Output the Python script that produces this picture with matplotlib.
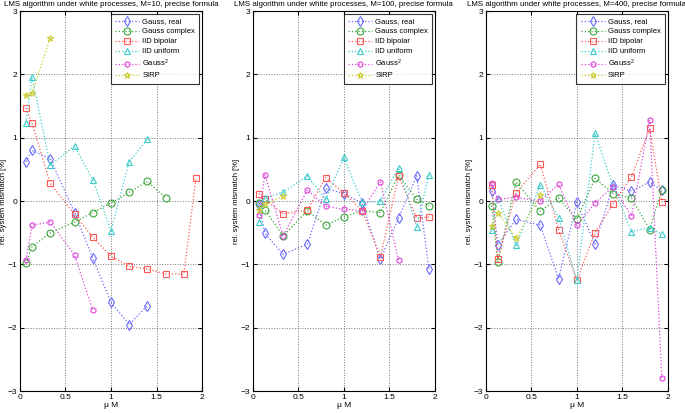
import numpy as np
import matplotlib
matplotlib.use('Agg')
import matplotlib.pyplot as plt

plt.rcParams['font.family'] = ['Liberation Sans', 'DejaVu Sans']
plt.rcParams['mathtext.fontset'] = 'custom'
plt.rcParams['mathtext.rm'] = 'Liberation Sans'
plt.rcParams['mathtext.it'] = 'Liberation Sans:italic'

# mu*M grid used in all three panels
mu = [0.0667, 0.1333, 0.3333, 0.6, 0.8, 1.0, 1.2, 1.4, 1.6, 1.8, 1.9333]

titles = ['LMS algorithm under white processes, M=10, precise formula',
          'LMS algorithm under white processes, M=100, precise formula',
          'LMS algorithm under white processes, M=400, precise formula']

labels = ['Gauss, real', 'Gauss complex', 'IID bipolar', 'IID uniform',
          'Gauss$^2$', 'SIRP']

# M=10
m10_gauss_real = [0.62, 0.80, 0.67, -0.18, -0.90, -1.60, -1.95, -1.65]
m10_gauss_cplx = [-0.98, -0.72, -0.50, -0.33, -0.18, -0.03, 0.14, 0.31, 0.05]
m10_bipolar = [1.47, 1.23, 0.28, -0.21, -0.57, -0.87, -1.03, -1.07, -1.15, -1.15, 0.37]
m10_uniform = [1.24, 1.96, 0.57, 0.87, 0.34, -0.47, 0.62, 0.98]
m10_gauss2 = [-0.93, -0.38, -0.33, -0.85, -1.72]
m10_sirp = [1.67, 1.70, 2.58]

# M=100
m100_gauss_real = [-0.06, -0.51, -0.84, -0.68, 0.20, 0.12, -0.03, -0.92, -0.27, 0.40, -1.07]
m100_gauss_cplx = [-0.03, -0.14, -0.55, -0.15, -0.38, -0.25, -0.15, -0.18, 0.41, 0.03, -0.07]
m100_bipolar = [0.12, 0.03, -0.20, -0.14, 0.37, 0.13, -0.15, -0.88, 0.39, -0.27, -0.25]
m100_uniform = [-0.33, 0.05, 0.14, 0.40, 0.03, 0.69, -0.02, 0.00, 0.53, -0.41, 0.42]
m100_gauss2 = [-0.22, 0.42, -0.55, 0.18, -0.08, -0.13, -0.15, 0.30, -0.93]
m100_sirp = [-0.14, -0.05, 0.08]

# M=400
m400_gauss_real = [0.16, -0.69, -0.29, -0.38, -1.23, -0.02, -0.68, 0.25, 0.16, 0.30, 0.17]
m400_gauss_cplx = [-0.07, -0.96, 0.30, -0.16, 0.05, -0.29, 0.36, 0.12, 0.05, -0.45, 0.18]
m400_bipolar = [0.26, -0.92, 0.13, 0.58, -0.45, -1.25, -0.50, -0.04, 0.38, 1.15, -0.01]
m400_uniform = [-0.45, 0.05, -0.70, 0.26, -0.26, -1.25, 1.07, 0.24, -0.48, -0.42, -0.52]
m400_gauss2 = [0.28, 0.03, 0.06, 0.00, 0.27, -0.38, -0.03, 0.23, -0.24, 1.28, -2.80]
m400_sirp = [-0.39, -0.18, -0.59, 0.10]

panels = [
    [m10_gauss_real, m10_gauss_cplx, m10_bipolar, m10_uniform, m10_gauss2, m10_sirp],
    [m100_gauss_real, m100_gauss_cplx, m100_bipolar, m100_uniform, m100_gauss2, m100_sirp],
    [m400_gauss_real, m400_gauss_cplx, m400_bipolar, m400_uniform, m400_gauss2, m400_sirp],
]

colors = ['#6a6aff', '#3aa63a', '#ff5a5a', '#3ccccc', '#dd44dd', '#cccc33']
markers = ['d', 'o', 's', '^', 'h', '*']
msizes = [5, 5, 5, 5, 4, 4.5]

fig = plt.figure(figsize=(6.85, 4.13), dpi=100)
lefts = [0.029, 0.369, 0.709]
for p in range(3):
    ax = fig.add_axes([lefts[p], 0.053, 0.266, 0.92])
    for s in range(6):
        y = panels[p][s]
        ax.plot(mu[:len(y)], y, linestyle=':', marker=markers[s], color=colors[s],
                markerfacecolor='none', markersize=msizes[s],
                linewidth=0.9, markeredgewidth=0.8, label=labels[s])
    ax.set_xlim(0, 2)
    ax.set_ylim(-3, 3)
    ax.set_xticks([0, 0.5, 1, 1.5, 2])
    ax.set_xticklabels(['0', '0.5', '1', '1.5', '2'])
    ax.set_yticks([-3, -2, -1, 0, 1, 2, 3])
    ax.grid(True, linestyle=':', color='#777777', linewidth=0.7)
    ax.tick_params(direction='in', labelsize=6, top=True, right=True, length=3, pad=2)
    ax.set_title(titles[p], fontsize=5.7, pad=3.5)
    ax.set_xlabel('\u03bc M', fontsize=6, labelpad=1)
    ax.set_ylabel('rel. system mismatch [%]', fontsize=5.5, labelpad=0)
    leg = ax.legend(loc='upper right', fontsize=5.5, frameon=True, fancybox=False,
                    edgecolor='black', handlelength=3.2, borderpad=0.55,
                    labelspacing=0.35, handletextpad=0.4, borderaxespad=0.35)
    leg.get_frame().set_linewidth(0.8)
    for sp in ax.spines.values():
        sp.set_linewidth(0.8)

fig.savefig('out.png', dpi=100)
